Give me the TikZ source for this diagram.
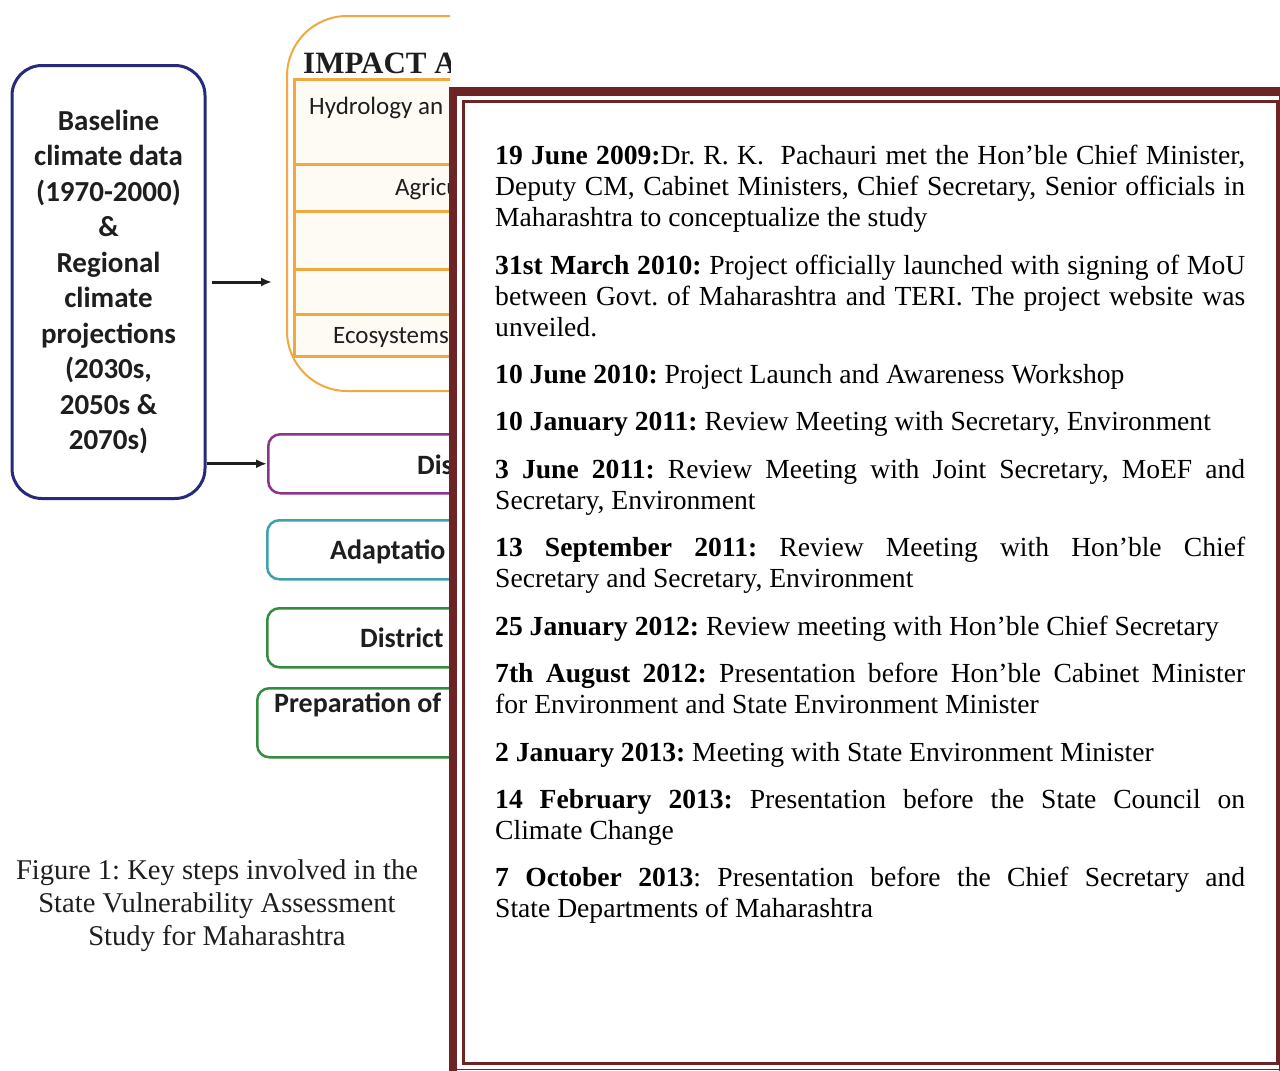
\documentclass[tikz,border=0pt]{standalone}
\usepackage{fontspec}
\setmainfont{Liberation Serif}
\newfontfamily\calibri{Carlito}
\usetikzlibrary{arrows.meta}
\definecolor{navy}{RGB}{38,42,122}
\definecolor{amber}{RGB}{240,168,64}
\definecolor{cream}{RGB}{254,251,244}
\definecolor{plum}{RGB}{140,52,140}
\definecolor{seablue}{RGB}{64,160,170}
\definecolor{leaf}{RGB}{52,140,62}
\definecolor{maroon}{RGB}{108,36,36}
\definecolor{ink}{RGB}{30,30,30}
\frenchspacing

\begin{document}
\begin{tikzpicture}[x=1pt,y=-1pt,
    stepbox/.style={draw, line width=2.5pt, rounded corners=12pt, anchor=north west,
        inner sep=0pt, minimum width=300pt},
    steptext/.style={font=\calibri\bfseries\fontsize{28}{34}\selectfont, text=ink,
        anchor=base west, inner sep=0pt},
    tablerow/.style={draw=amber, line width=2.5pt, fill=cream, anchor=north west,
        inner sep=0pt, minimum width=300pt},
    rowtext/.style={font=\calibri\fontsize{25}{30}\selectfont, text=ink, anchor=base west,
        inner sep=0pt},
    entry/.style={font=\fontsize{27.6}{31}\selectfont, text width=750pt, align=justify,
        anchor=base west, inner sep=0pt},
    arr/.style={draw=ink, line width=3pt, -{Latex[length=11pt,width=9pt]}}]

    \useasboundingbox (0,0) rectangle (1280,1071);

    \begin{scope}
    \clip (0,0) rectangle (450,1071);
    % climate data box
    \node[draw=navy, line width=3pt, rounded corners=30pt, minimum width=193pt,
        minimum height=433pt, align=center, text=ink,
        font=\calibri\bfseries\fontsize{29}{35.5}\selectfont] (base) at (108.5,282)
        {Baseline\\climate data\\(1970-2000)\\\&\\Regional\\climate\\projections\\(2030s,\\2050s \&\\2070s)};

    % impact assessment
    \node[draw=amber, line width=2pt, rounded corners=60pt, minimum width=400pt,
        minimum height=375pt, anchor=north west, inner sep=0pt] (impact) at (286,15) {};
    \node[font=\bfseries\fontsize{31}{31}\selectfont, text=ink, anchor=base west,
        inner sep=0pt] (title) at (303,73) {IMPACT A};
    \node[tablerow, minimum height=85pt] (hydro) at (293,78) {};
    \node[tablerow, minimum height=47pt] (agri) at (293,163) {};
    \node[tablerow, minimum height=58pt] (rowc) at (293,210) {};
    \node[tablerow, minimum height=45pt] (rowd) at (293,268) {};
    \node[tablerow, minimum height=42pt] (eco) at (293,313) {};
    \node[rowtext] (hydrotext) at (309,114) {Hydrology an};
    \node[rowtext] (agritext) at (395,195) {Agricu};
    \node[rowtext] (ecotext) at (333,343) {Ecosystems};

    % steps below
    \node[stepbox, draw=plum, minimum height=59pt] (dis) at (267,433) {};
    \node[stepbox, draw=seablue, minimum height=59pt] (adapt) at (266,519) {};
    \node[stepbox, draw=leaf, minimum height=59pt] (district) at (266,607) {};
    \node[stepbox, draw=leaf, minimum height=69pt] (prep) at (256,687) {};
    \node[steptext] (distext) at (417,474) {Dis};
    \node[steptext] (adapttext) at (330,559) {Adaptatio};
    \node[steptext] (districttext) at (360,647) {District};
    \node[steptext] (preptext) at (274,712) {Preparation of};

    \draw[arr, shorten <=5pt, shorten >=14pt] (base.east) -- (base.east -| impact.west);
    \draw[arr] (base.east |- dis.west) -- (dis.west);
    \end{scope}

    % caption
    \node[font=\fontsize{28.6}{33}\selectfont, align=center, text=ink] (caption) at (217,906)
        {Figure 1: Key steps involved in the\\State Vulnerability Assessment\\Study for Maharashtra};

    % timeline frame
    \fill[white] (449,87) rectangle (1280,1071);
    \fill[maroon] (449,87) rectangle (457,1071);
    \fill[maroon] (449,87) rectangle (1280,96);
    \draw[maroon, line width=3pt] (463.5,101.5) rectangle (1277,1063.5);
    \draw[maroon, line width=1.5pt] (457,1069.5) -- (1280,1069.5);
    \draw[maroon, line width=1.5pt] (1279.3,96) -- (1279.3,1071);

    % timeline entries
    \node[entry] (jun09) at (495,164) {\textbf{19 June 2009:}Dr. R. K.\ \ Pachauri met the Hon’ble Chief Minister,\linebreak
        Deputy CM, Cabinet Ministers, Chief Secretary, Senior officials in\linebreak
        Maharashtra to conceptualize the study};
    \node[entry] (mar10) at (495,274) {\textbf{31st March 2010:} Project officially launched with signing of MoU\linebreak
        between Govt. of Maharashtra and TERI. The project website was\linebreak
        unveiled.};
    \node[entry] (jun10) at (495,383) {\textbf{10 June 2010:} Project Launch and Awareness Workshop};
    \node[entry] (jan11) at (495,430) {\textbf{10 January 2011:} Review Meeting with Secretary, Environment};
    \node[entry] (jun11) at (495,478) {\textbf{3 June 2011:} Review Meeting with Joint Secretary, MoEF and\linebreak
        Secretary, Environment};
    \node[entry] (sep11) at (495,556) {\textbf{13 September 2011:} Review Meeting with Hon’ble Chief\linebreak
        Secretary and Secretary, Environment};
    \node[entry] (jan12) at (495,635) {\textbf{25 January 2012:} Review meeting with Hon’ble Chief Secretary};
    \node[entry] (aug12) at (495,682) {\textbf{7th August 2012:} Presentation before Hon’ble Cabinet Minister\linebreak
        for Environment and State Environment Minister};
    \node[entry] (jan13) at (495,761) {\textbf{2 January 2013:} Meeting with State Environment Minister};
    \node[entry] (feb13) at (495,808) {\textbf{14 February 2013:} Presentation before the State Council on\linebreak
        Climate Change};
    \node[entry] (oct13) at (495,886) {\textbf{7 October 2013}: Presentation before the Chief Secretary and\linebreak
        State Departments of Maharashtra};
\end{tikzpicture}
\end{document}
